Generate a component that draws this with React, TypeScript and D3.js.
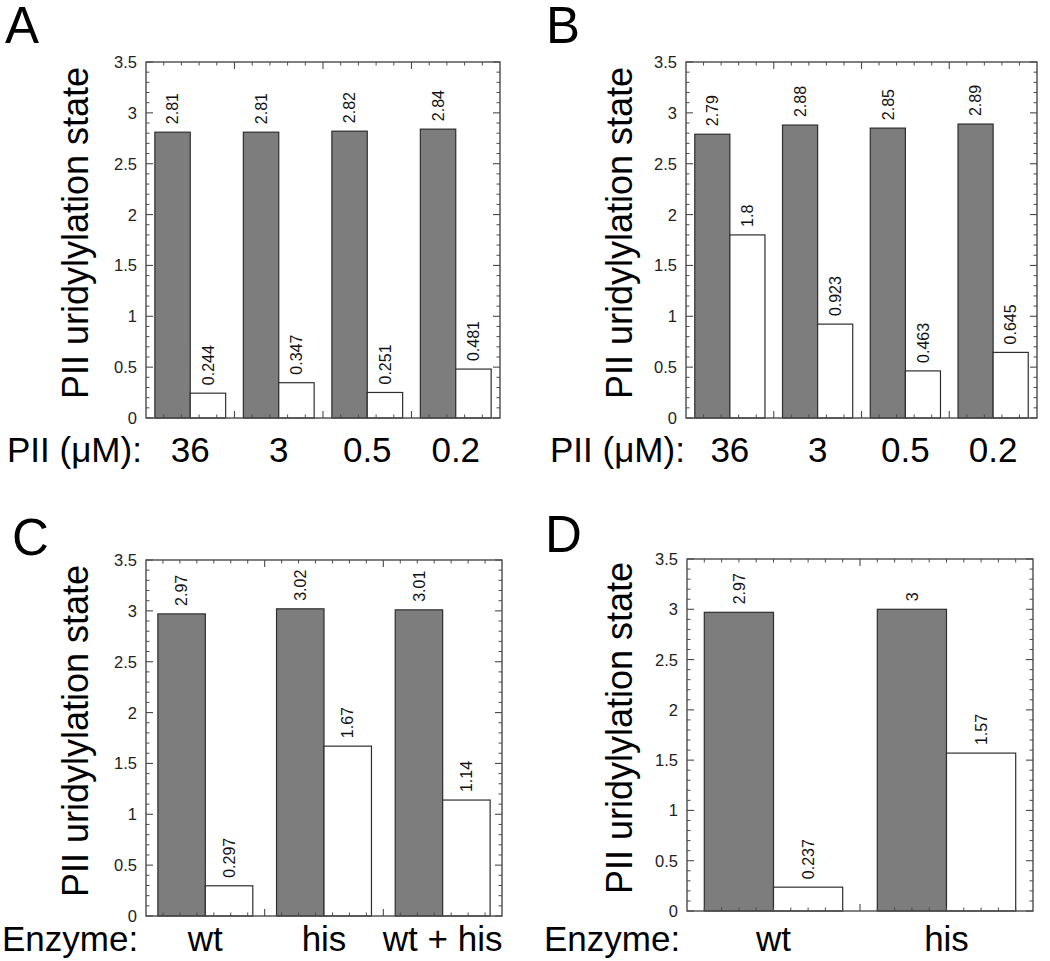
import React from "react";
import * as d3 from "d3";

// ---------- data ----------
const concCategories = ["36", "3", "0.5", "0.2"];
const enzymeCategoriesC = ["wt", "his", "wt + his"];
const enzymeCategoriesD = ["wt", "his"];

const panelAGray = [2.81, 2.81, 2.82, 2.84];
const panelAWhite = [0.244, 0.347, 0.251, 0.481];
const panelBGray = [2.79, 2.88, 2.85, 2.89];
const panelBWhite = [1.8, 0.923, 0.463, 0.645];
const panelCGray = [2.97, 3.02, 3.01];
const panelCWhite = [0.297, 1.67, 1.14];
const panelDGray = [2.97, 3.0];
const panelDWhite = [0.237, 1.57];

const yTickValues = [0, 0.5, 1, 1.5, 2, 2.5, 3, 3.5];
const yTickLabels = ["0", "0.5", "1", "1.5", "2", "2.5", "3", "3.5"];

const yAxisTitle = "PII uridylylation state";
const concTitle = "PII (\u03BCM):";
const enzymeTitle = "Enzyme:";

// ---------- layout ----------
const FONT = "'Liberation Sans', Arial, Helvetica, sans-serif";

type Panel = {
  letter: string;
  lx: number; ly: number;
  left: number; right: number; top: number; bottom: number;
  cats: string[]; gray: number[]; white: number[];
  minorPerGroup: number;
  xTitle: string; xTitleX: number; catBaseline: number;
  yTitleX: number;
};

const panels: Panel[] = [
  { letter: "A", lx: 5, ly: 43, left: 146, right: 500, top: 62, bottom: 418,
    cats: concCategories, gray: panelAGray, white: panelAWhite, minorPerGroup: 5,
    xTitle: concTitle, xTitleX: 7, catBaseline: 462, yTitleX: 88 },
  { letter: "B", lx: 546, ly: 43, left: 686, right: 1037, top: 62, bottom: 418,
    cats: concCategories, gray: panelBGray, white: panelBWhite, minorPerGroup: 5,
    xTitle: concTitle, xTitleX: 550, catBaseline: 462, yTitleX: 632 },
  { letter: "C", lx: 12, ly: 555, left: 146, right: 502, top: 560, bottom: 916,
    cats: enzymeCategoriesC, gray: panelCGray, white: panelCWhite, minorPerGroup: 7,
    xTitle: enzymeTitle, xTitleX: 2, catBaseline: 951, yTitleX: 88 },
  { letter: "D", lx: 545, ly: 552, left: 687, right: 1033, top: 559, bottom: 911,
    cats: enzymeCategoriesD, gray: panelDGray, white: panelDWhite, minorPerGroup: 10,
    xTitle: enzymeTitle, xTitleX: 544, catBaseline: 951, yTitleX: 632 },
];

const AXIS = "#4a4a4a";
const BAR_STROKE = "#2e2e2e";

function PanelChart({ p }: { p: Panel }) {
  const n = p.cats.length;
  const x = d3.scaleLinear().domain([0, n]).range([p.left, p.right]);
  const y = d3.scaleLinear().domain([0, 3.5]).range([p.bottom, p.top]);

  const yMinor = d3.range(0, 36).map((i) => i / 10).filter((v) => Math.round(v * 10) % 5 !== 0);
  const xMajor = d3.range(1, n);
  const xMinor: number[] = [];
  for (let g = 0; g < n; g++) {
    for (let k = 1; k < p.minorPerGroup; k++) xMinor.push(g + k / p.minorPerGroup);
  }

  const fmt = (v: number) => String(v);

  return (
    <g>
      <text x={p.lx} y={p.ly} fontFamily={FONT} fontSize={51} fill="#000">{p.letter}</text>

      {/* bars */}
      {p.gray.map((v, i) => (
        <rect key={"g" + i} x={x(i + 0.1)} y={y(v)} width={x(i + 0.5) - x(i + 0.1)}
          height={y(0) - y(v)} fill="#7d7d7d" stroke={BAR_STROKE} strokeWidth={1.2} />
      ))}
      {p.white.map((v, i) => (
        <rect key={"w" + i} x={x(i + 0.5)} y={y(v)} width={x(i + 0.9) - x(i + 0.5)}
          height={y(0) - y(v)} fill="#ffffff" stroke={BAR_STROKE} strokeWidth={1.2} />
      ))}

      {/* frame */}
      <rect x={p.left} y={p.top} width={p.right - p.left} height={p.bottom - p.top}
        fill="none" stroke={AXIS} strokeWidth={1.4} />

      {/* y ticks left & right */}
      {yTickValues.map((v) => (
        <g key={"ym" + v}>
          <line x1={p.left} x2={p.left + 7} y1={y(v)} y2={y(v)} stroke={AXIS} strokeWidth={1.1} />
          <line x1={p.right} x2={p.right - 7} y1={y(v)} y2={y(v)} stroke={AXIS} strokeWidth={1.1} />
        </g>
      ))}
      {yMinor.map((v) => (
        <g key={"yn" + v}>
          <line x1={p.left} x2={p.left + 3.5} y1={y(v)} y2={y(v)} stroke={AXIS} strokeWidth={1} />
          <line x1={p.right} x2={p.right - 3.5} y1={y(v)} y2={y(v)} stroke={AXIS} strokeWidth={1} />
        </g>
      ))}
      {/* x ticks bottom & top */}
      {xMajor.map((v) => (
        <g key={"xm" + v}>
          <line x1={x(v)} x2={x(v)} y1={p.bottom} y2={p.bottom - 7} stroke={AXIS} strokeWidth={1.1} />
          <line x1={x(v)} x2={x(v)} y1={p.top} y2={p.top + 7} stroke={AXIS} strokeWidth={1.1} />
        </g>
      ))}
      {xMinor.map((v) => (
        <g key={"xn" + v}>
          <line x1={x(v)} x2={x(v)} y1={p.bottom} y2={p.bottom - 3.5} stroke={AXIS} strokeWidth={1} />
          <line x1={x(v)} x2={x(v)} y1={p.top} y2={p.top + 3.5} stroke={AXIS} strokeWidth={1} />
        </g>
      ))}

      {/* y tick labels */}
      {yTickValues.map((v, i) => (
        <text key={"yl" + v} x={p.left - 9} y={y(v)} dy="0.36em" textAnchor="end"
          fontFamily={FONT} fontSize={16.5} fill="#222">{yTickLabels[i]}</text>
      ))}

      {/* value labels */}
      {p.gray.map((v, i) => {
        const cx = (x(i + 0.1) + x(i + 0.5)) / 2;
        const cy = y(v) - 8;
        return (
          <text key={"gv" + i} x={cx} y={cy} dy="0.36em" textAnchor="start"
            transform={`rotate(-90 ${cx} ${cy})`} fontFamily={FONT} fontSize={16} fill="#111">{fmt(v)}</text>
        );
      })}
      {p.white.map((v, i) => {
        const cx = (x(i + 0.5) + x(i + 0.9)) / 2;
        const cy = y(v) - 8;
        return (
          <text key={"wv" + i} x={cx} y={cy} dy="0.36em" textAnchor="start"
            transform={`rotate(-90 ${cx} ${cy})`} fontFamily={FONT} fontSize={16} fill="#111">{fmt(v)}</text>
        );
      })}

      {/* y axis title */}
      <text x={p.yTitleX} y={(p.top + p.bottom) / 2 - 7} textAnchor="middle"
        transform={`rotate(-90 ${p.yTitleX} ${(p.top + p.bottom) / 2 - 7})`}
        fontFamily={FONT} fontSize={36} fill="#000">{yAxisTitle}</text>

      {/* x title and categories */}
      <text x={p.xTitleX} y={p.catBaseline} fontFamily={FONT} fontSize={35} fill="#000">{p.xTitle}</text>
      {p.cats.map((c, i) => (
        <text key={"c" + i} x={x(i + 0.5)} y={p.catBaseline} textAnchor="middle"
          fontFamily={FONT} fontSize={35} fill="#000">{c}</text>
      ))}
    </g>
  );
}

export default function App() {
  return (
    <svg width={1050} height={961} viewBox="0 0 1050 961"
      style={{ position: "absolute", left: 0, top: 0, background: "#fff" }}>
      <rect x={0} y={0} width={1050} height={961} fill="#fff" />
      {panels.map((p) => (
        <PanelChart key={p.letter} p={p} />
      ))}
    </svg>
  );
}
